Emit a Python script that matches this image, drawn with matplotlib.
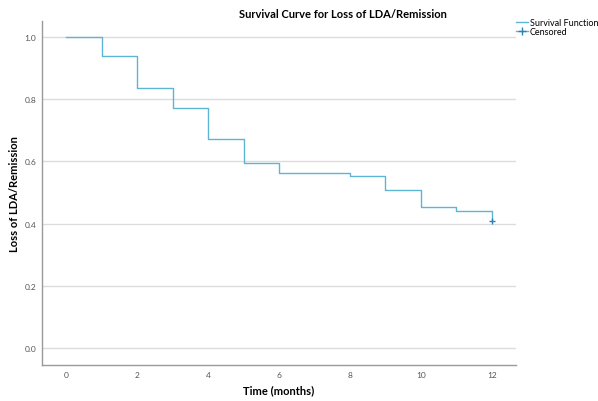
import matplotlib
matplotlib.use("Agg")
import matplotlib.pyplot as plt
from matplotlib.lines import Line2D

times = [0, 1, 2, 3, 4, 5, 6, 8, 9, 10, 11, 12]
survival = [1.0, 0.938, 0.838, 0.771, 0.672, 0.594, 0.563, 0.553, 0.507, 0.452, 0.442, 0.407]
censored_time = [12]
censored_surv = [0.407]
xticks = [0, 2, 4, 6, 8, 10, 12]
yticks = [0.0, 0.2, 0.4, 0.6, 0.8, 1.0]

line_color = "#5cb5d3"
cens_color = "#2f80b3"
font = ["Lato", "DejaVu Sans"]

W, H = 598, 402
fig = plt.figure(figsize=(5.98, 4.02), dpi=100)
ax = fig.add_axes([42 / W, 1 - 366 / H, (516 - 42) / W, (366 - 22) / H])

for y in yticks:
    ax.axhline(y, color="#dcdcdc", lw=1.0, zorder=0)

ax.step(times, survival, where="post", color=line_color, lw=1.0, zorder=2)
ax.plot(censored_time, censored_surv, marker="+", ms=5, mew=1.0,
        color=cens_color, ls="none", zorder=3)

ax.set_xlim(-0.68, 12.68)
ax.set_ylim(-0.055, 1.052)
ax.set_xticks(xticks)
ax.set_xticklabels([str(t) for t in xticks], family=font)
ax.set_yticks(yticks)
ax.set_yticklabels([f"{v:.1f}" for v in yticks], family=font)
ax.tick_params(axis="both", length=0, labelsize=6, labelcolor="#555555")
ax.tick_params(axis="x", pad=4)
ax.tick_params(axis="y", pad=4)
for s in ["top", "right"]:
    ax.spines[s].set_visible(False)
for s in ["left", "bottom"]:
    ax.spines[s].set_color("#999999")
    ax.spines[s].set_linewidth(1.0)

fig.text(279 / W, 1 - 391 / H, "Time (months)", ha="center", va="center",
         fontsize=8, fontweight="bold", family=font)
fig.text(15 / W, 1 - 194 / H, "Loss of LDA/Remission", ha="center", va="center",
         rotation=90, fontsize=8, fontweight="bold", family=font)
fig.text(343 / W, 1 - 14 / H, "Survival Curve for Loss of LDA/Remission",
         ha="center", va="center", fontsize=8, fontweight="bold", family=font)

handles = [
    Line2D([0, 1], [0, 1], color=line_color, lw=1.0, drawstyle="steps-post"),
    Line2D([], [], color=line_color, lw=1.0, marker="+", ms=6, mec=cens_color),
]
leg = fig.legend(handles, ["Survival Function", "Censored"], loc="upper left",
                 bbox_to_anchor=(516 / W, 1 - 19 / H), frameon=False,
                 prop={"family": font, "size": 6.5}, handlelength=1.3,
                 handletextpad=0.2, labelspacing=0.05, borderpad=0,
                 borderaxespad=0)

fig.savefig("out.png", dpi=100)
